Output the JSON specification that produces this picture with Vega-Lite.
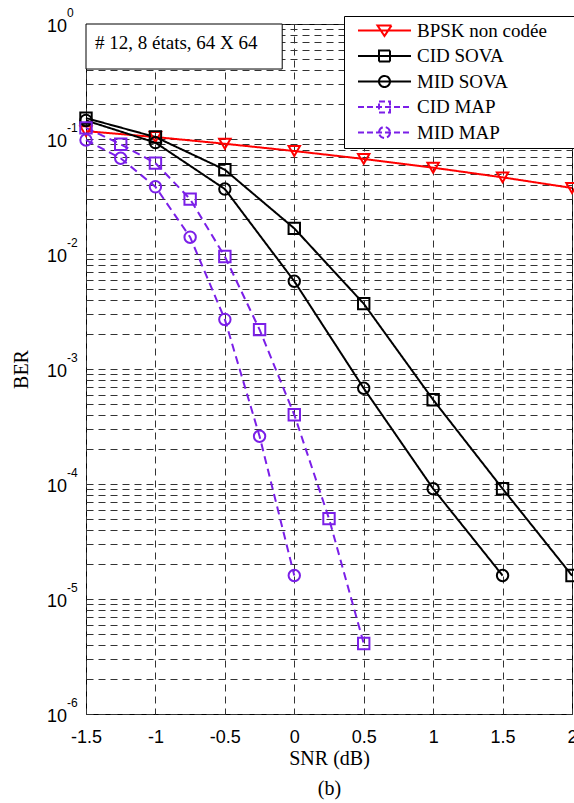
{
  "$schema": "https://vega.github.io/schema/vega-lite/v6.json",
  "width": 486,
  "height": 690,
  "autosize": "none",
  "padding": {"left": 86, "top": 24, "right": 2, "bottom": 89},
  "background": "white",
  "config": {
    "view": {"stroke": "black", "strokeWidth": 1},
    "axis": {"gridColor": "#333333", "gridDash": [7, 5], "gridWidth": 1, "gridOpacity": 1, "domain": false, "ticks": false},
    "legend": {"title": null, "orient": "none", "legendX": 258, "legendY": -8, "fillColor": "white", "strokeColor": "black", "padding": 5, "symbolSize": 100, "symbolStrokeWidth": 2, "labelFont": "Liberation Serif", "labelFontSize": 19, "labelColor": "black", "labelOffset": 49, "rowPadding": 5.5, "cornerRadius": 0, "symbolOpacity": 1}
  },
  "datasets": {
    "ber": [
      {"series": "BPSK non codée", "snr": -1.5, "ber": 0.117},
      {"series": "BPSK non codée", "snr": -1, "ber": 0.104},
      {"series": "BPSK non codée", "snr": -0.5, "ber": 0.0909},
      {"series": "BPSK non codée", "snr": 0, "ber": 0.0786},
      {"series": "BPSK non codée", "snr": 0.5, "ber": 0.0671},
      {"series": "BPSK non codée", "snr": 1, "ber": 0.0563},
      {"series": "BPSK non codée", "snr": 1.5, "ber": 0.0464},
      {"series": "BPSK non codée", "snr": 2, "ber": 0.0375},
      {"series": "CID SOVA", "snr": -1.5, "ber": 0.152},
      {"series": "CID SOVA", "snr": -1, "ber": 0.104},
      {"series": "CID SOVA", "snr": -0.5, "ber": 0.054},
      {"series": "CID SOVA", "snr": 0, "ber": 0.0167},
      {"series": "CID SOVA", "snr": 0.5, "ber": 0.0037},
      {"series": "CID SOVA", "snr": 1, "ber": 0.00054},
      {"series": "CID SOVA", "snr": 1.5, "ber": 0.000091},
      {"series": "CID SOVA", "snr": 2, "ber": 0.000016},
      {"series": "MID SOVA", "snr": -1.5, "ber": 0.145},
      {"series": "MID SOVA", "snr": -1, "ber": 0.093},
      {"series": "MID SOVA", "snr": -0.5, "ber": 0.0367},
      {"series": "MID SOVA", "snr": 0, "ber": 0.0058},
      {"series": "MID SOVA", "snr": 0.5, "ber": 0.00068},
      {"series": "MID SOVA", "snr": 1, "ber": 0.000091},
      {"series": "MID SOVA", "snr": 1.5, "ber": 0.000016},
      {"series": "CID MAP", "snr": -1.5, "ber": 0.125},
      {"series": "CID MAP", "snr": -1.25, "ber": 0.09},
      {"series": "CID MAP", "snr": -1, "ber": 0.0617},
      {"series": "CID MAP", "snr": -0.75, "ber": 0.03},
      {"series": "CID MAP", "snr": -0.5, "ber": 0.0095},
      {"series": "CID MAP", "snr": -0.25, "ber": 0.0022},
      {"series": "CID MAP", "snr": 0, "ber": 0.0004},
      {"series": "CID MAP", "snr": 0.25, "ber": 0.00005},
      {"series": "CID MAP", "snr": 0.5, "ber": 0.0000041},
      {"series": "MID MAP", "snr": -1.5, "ber": 0.098},
      {"series": "MID MAP", "snr": -1.25, "ber": 0.068},
      {"series": "MID MAP", "snr": -1, "ber": 0.0384},
      {"series": "MID MAP", "snr": -0.75, "ber": 0.014},
      {"series": "MID MAP", "snr": -0.5, "ber": 0.0027},
      {"series": "MID MAP", "snr": -0.25, "ber": 0.00026},
      {"series": "MID MAP", "snr": 0, "ber": 0.000016}
    ],
    "decades": [
      {"v": 1, "exp": "0"},
      {"v": 0.1, "exp": "-1"},
      {"v": 0.01, "exp": "-2"},
      {"v": 0.001, "exp": "-3"},
      {"v": 0.0001, "exp": "-4"},
      {"v": 0.00001, "exp": "-5"},
      {"v": 0.000001, "exp": "-6"}
    ],
    "note": [
      {"label": "# 12, 8 états, 64 X 64"}
    ]
  },
  "resolve": {"scale": {"shape": "independent", "color": "independent", "strokeDash": "independent"}},
  "layer": [
    {
      "data": {"name": "decades"},
      "mark": {"type": "text", "text": "10", "align": "right", "baseline": "middle", "dx": -19, "dy": 3, "font": "Liberation Sans", "fontSize": 18, "color": "black"},
      "encoding": {
        "x": {"datum": -1.5, "type": "quantitative", "scale": {"domain": [-1.5, 2], "nice": false, "zero": false},
          "axis": {"values": [-1.5, -1, -0.5, 0, 0.5, 1, 1.5, 2], "grid": true, "labelFont": "Liberation Sans", "labelFontSize": 18, "labelColor": "black", "labelPadding": 14, "labelFlush": false,
            "labelExpr": "datum.value < 0 ? '-' + format(-datum.value, '~g') : format(datum.value, '~g')",
            "title": ["SNR (dB)", "(b)"], "titleFont": "Liberation Serif", "titleFontSize": 20, "titleFontWeight": "normal", "titleColor": "black", "titlePadding": 2, "titleLineHeight": 30}},
        "y": {"field": "v", "type": "quantitative", "scale": {"type": "log", "domain": [0.000001, 1], "nice": false},
          "axis": {"values": [0.000001,0.000002,0.000003,0.000004,0.000005,0.000006,0.000007,0.000008,0.000009,0.00001,0.00002,0.00003,0.00004,0.00005,0.00006,0.00007,0.00008,0.00009,0.0001,0.0002,0.0003,0.0004,0.0005,0.0006,0.0007,0.0008,0.0009,0.001,0.002,0.003,0.004,0.005,0.006,0.007,0.008,0.009,0.01,0.02,0.03,0.04,0.05,0.06,0.07,0.08,0.09,0.1,0.2,0.3,0.4,0.5,0.6,0.7,0.8,0.9,1],
            "grid": true, "labels": false, "title": "BER", "titleFont": "Liberation Serif", "titleFontSize": 20, "titleFontWeight": "normal", "titleColor": "black", "titlePadding": 55}}
      }
    },
    {
      "data": {"name": "decades"},
      "mark": {"type": "text", "align": "left", "baseline": "middle", "dx": -19, "dy": -11, "font": "Liberation Sans", "fontSize": 12, "color": "black"},
      "encoding": {
        "x": {"datum": -1.5, "type": "quantitative"},
        "y": {"field": "v", "type": "quantitative"},
        "text": {"field": "exp"}
      }
    },
    {
      "data": {"name": "note"},
      "mark": {"type": "rect", "fill": "white", "stroke": "black", "strokeWidth": 1},
      "encoding": {
        "x": {"datum": -1.5, "type": "quantitative"},
        "x2": {"datum": -0.087},
        "y": {"datum": 1, "type": "quantitative"},
        "y2": {"datum": 0.406}
      }
    },
    {
      "data": {"name": "note"},
      "mark": {"type": "text", "align": "left", "baseline": "middle", "dx": 9, "font": "Liberation Serif", "fontSize": 19, "color": "black"},
      "encoding": {
        "x": {"datum": -1.5, "type": "quantitative"},
        "y": {"datum": 0.684, "type": "quantitative"},
        "text": {"field": "label"}
      }
    },
    {
      "data": {"name": "ber"},
      "mark": {"type": "line", "strokeWidth": 2},
      "encoding": {
        "x": {"field": "snr", "type": "quantitative"},
        "y": {"field": "ber", "type": "quantitative"},
        "order": {"field": "snr"},
        "color": {"field": "series", "type": "nominal", "legend": null,
          "scale": {"domain": ["BPSK non codée", "CID SOVA", "MID SOVA", "CID MAP", "MID MAP"], "range": ["#ff0000", "#000000", "#000000", "#7b1fe8", "#7b1fe8"]}},
        "strokeDash": {"field": "series", "type": "nominal", "legend": null,
          "scale": {"domain": ["BPSK non codée", "CID SOVA", "MID SOVA", "CID MAP", "MID MAP"], "range": [[1, 0], [1, 0], [1, 0], [8, 5], [8, 5]]}}
      }
    },
    {
      "data": {"name": "ber"},
      "mark": {"type": "point", "filled": false, "strokeWidth": 2, "size": 130, "opacity": 1},
      "encoding": {
        "x": {"field": "snr", "type": "quantitative"},
        "y": {"field": "ber", "type": "quantitative"},
        "color": {"field": "series", "type": "nominal", "legend": null,
          "scale": {"domain": ["BPSK non codée", "CID SOVA", "MID SOVA", "CID MAP", "MID MAP"], "range": ["#ff0000", "#000000", "#000000", "#7b1fe8", "#7b1fe8"]}},
        "shape": {"field": "series", "type": "nominal", "legend": null,
          "scale": {"domain": ["BPSK non codée", "CID SOVA", "MID SOVA", "CID MAP", "MID MAP"], "range": ["triangle-down", "square", "circle", "square", "circle"]}}
      }
    },
    {
      "data": {"name": "ber"},
      "transform": [{"filter": "datum.snr > 99"}],
      "mark": {"type": "point", "filled": false, "strokeWidth": 2, "size": 100, "opacity": 1},
      "encoding": {
        "x": {"field": "snr", "type": "quantitative"},
        "y": {"field": "ber", "type": "quantitative"},
        "color": {"field": "series", "type": "nominal",
          "scale": {"domain": ["BPSK non codée", "CID SOVA", "MID SOVA", "CID MAP", "MID MAP"], "range": ["#ff0000", "#000000", "#000000", "#7b1fe8", "#7b1fe8"]},
          "legend": {"labelExpr": "datum.label + '\u2800\u2800'"}},
        "strokeDash": {"field": "series", "type": "nominal",
          "scale": {"domain": ["BPSK non codée", "CID SOVA", "MID SOVA", "CID MAP", "MID MAP"], "range": [[1, 0], [1, 0], [1, 0], [6, 3], [6, 3]]},
          "legend": {"labelExpr": "datum.label + '\u2800\u2800'"}},
        "shape": {"field": "series", "type": "nominal",
          "scale": {"domain": ["BPSK non codée", "CID SOVA", "MID SOVA", "CID MAP", "MID MAP"],
            "range": ["M-0.1,0H10.5M3.8,-1L6.6,-1L5.2,1.1Z", "M-0.1,0H10.5M4.1,-1.1H6.3V1.1H4.1Z", "M-0.1,0H10.5M6.3,0A1.1,1.1 0 1,1 4.1,0A1.1,1.1 0 1,1 6.3,0", "M-0.1,0H10.5M4.1,-1.1H6.3V1.1H4.1Z", "M-0.1,0H10.5M6.3,0A1.1,1.1 0 1,1 4.1,0A1.1,1.1 0 1,1 6.3,0"]},
          "legend": {"labelExpr": "datum.label + '\u2800\u2800'"}}
      }
    }
  ]
}
